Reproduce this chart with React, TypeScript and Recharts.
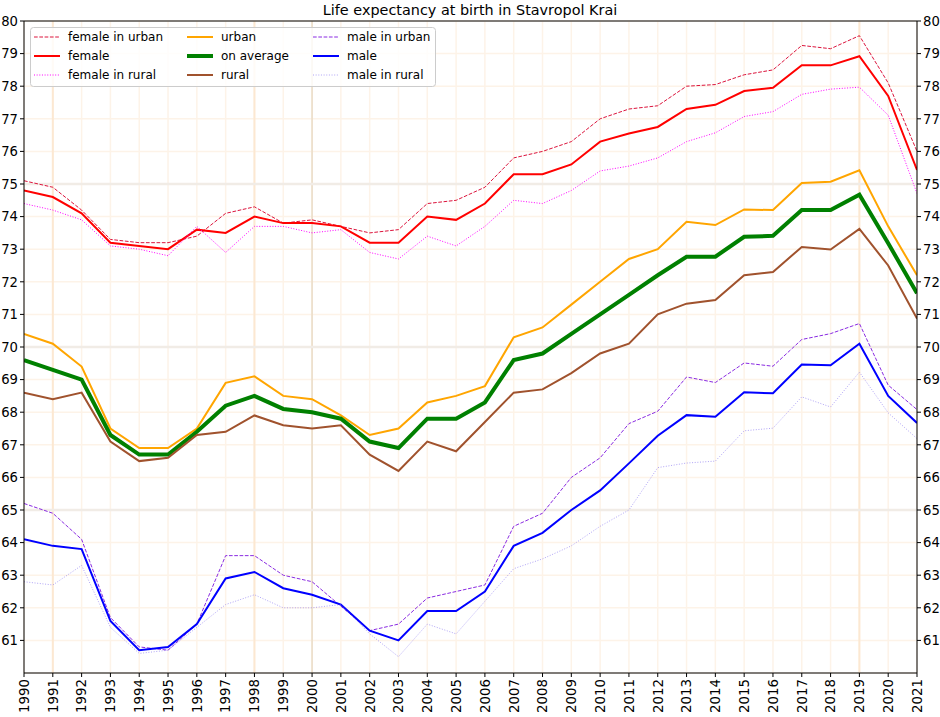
import React from "react";
import { LineChart, Line, XAxis, YAxis, CartesianGrid, ReferenceLine } from "recharts";

const years = [1990, 1991, 1992, 1993, 1994, 1995, 1996, 1997, 1998, 1999, 2000, 2001, 2002, 2003, 2004, 2005, 2006, 2007, 2008, 2009, 2010, 2011, 2012, 2013, 2014, 2015, 2016, 2017, 2018, 2019, 2020, 2021];
const yTicks = [61, 62, 63, 64, 65, 66, 67, 68, 69, 70, 71, 72, 73, 74, 75, 76, 77, 78, 79, 80];

const femaleUrban = [75.1, 74.9, 74.2, 73.3, 73.2, 73.2, 73.4, 74.1, 74.3, 73.8, 73.9, 73.7, 73.5, 73.6, 74.4, 74.5, 74.9, 75.8, 76.0, 76.3, 77.0, 77.3, 77.4, 78.0, 78.05, 78.35, 78.5, 79.25, 79.15, 79.55, 78.1, 76.0];
const female = [74.8, 74.6, 74.1, 73.2, 73.1, 73.0, 73.6, 73.5, 74.0, 73.8, 73.8, 73.7, 73.2, 73.2, 74.0, 73.9, 74.4, 75.3, 75.3, 75.6, 76.3, 76.55, 76.75, 77.3, 77.43, 77.85, 77.95, 78.64, 78.64, 78.92, 77.7, 75.43];
const femaleRural = [74.4, 74.2, 73.9, 73.1, 73.0, 72.8, 73.7, 72.9, 73.7, 73.7, 73.5, 73.6, 72.9, 72.7, 73.4, 73.1, 73.7, 74.5, 74.4, 74.8, 75.4, 75.55, 75.8, 76.3, 76.57, 77.07, 77.22, 77.75, 77.91, 77.97, 77.11, 74.71];
const urban = [70.4, 70.1, 69.4, 67.5, 66.9, 66.9, 67.5, 68.9, 69.1, 68.5, 68.4, 67.9, 67.3, 67.5, 68.3, 68.5, 68.8, 70.3, 70.6, 71.3, 72.0, 72.7, 73.0, 73.84, 73.74, 74.22, 74.2, 75.03, 75.07, 75.42, 73.7, 72.2];
const onAverage = [69.6, 69.3, 69.0, 67.3, 66.7, 66.7, 67.4, 68.2, 68.5, 68.1, 68.0, 67.8, 67.1, 66.9, 67.8, 67.8, 68.3, 69.6, 69.8, 70.4, 71.0, 71.6, 72.2, 72.77, 72.77, 73.38, 73.41, 74.2, 74.2, 74.67, 73.18, 71.65];
const rural = [68.6, 68.4, 68.6, 67.1, 66.5, 66.6, 67.3, 67.4, 67.9, 67.6, 67.5, 67.6, 66.7, 66.2, 67.1, 66.8, 67.7, 68.6, 68.7, 69.2, 69.8, 70.1, 71.0, 71.33, 71.44, 72.2, 72.3, 73.07, 72.99, 73.62, 72.5, 70.87];
const maleUrban = [65.2, 64.9, 64.1, 61.7, 60.8, 60.7, 61.5, 63.6, 63.6, 63.0, 62.8, 62.05, 61.3, 61.5, 62.3, 62.5, 62.7, 64.5, 64.9, 66.0, 66.6, 67.65, 68.03, 69.08, 68.91, 69.51, 69.41, 70.23, 70.41, 70.72, 68.83, 68.08];
const male = [64.1, 63.9, 63.8, 61.6, 60.7, 60.8, 61.5, 62.9, 63.1, 62.6, 62.4, 62.1, 61.3, 61.0, 61.9, 61.9, 62.5, 63.9, 64.3, 65.0, 65.6, 66.43, 67.28, 67.91, 67.86, 68.61, 68.58, 69.46, 69.44, 70.1, 68.5, 67.67];
const maleRural = [62.8, 62.7, 63.3, 61.4, 60.6, 60.7, 61.4, 62.1, 62.4, 62.0, 62.0, 62.1, 61.2, 60.5, 61.5, 61.2, 62.2, 63.2, 63.5, 63.9, 64.5, 65.0, 66.3, 66.44, 66.5, 67.43, 67.51, 68.47, 68.16, 69.23, 67.98, 67.19];

const seriesNames = ["female in urban", "female", "female in rural", "urban", "on average", "rural", "male in urban", "male", "male in rural"];
const seriesValues = [femaleUrban, female, femaleRural, urban, onAverage, rural, maleUrban, male, maleRural];

const styles = [
  { color: "#dc143c", width: 1, dash: "3.7 1.6", opacity: 1 },
  { color: "#ff0000", width: 2, dash: undefined, opacity: 1 },
  { color: "#ff00ff", width: 1, dash: "1 1.65", opacity: 1 },
  { color: "#ffa500", width: 2, dash: undefined, opacity: 1 },
  { color: "#008000", width: 4, dash: undefined, opacity: 1 },
  { color: "#a0522d", width: 2, dash: undefined, opacity: 1 },
  { color: "#8a2be2", width: 1, dash: "3.7 1.6", opacity: 1 },
  { color: "#0000ff", width: 2, dash: undefined, opacity: 1 },
  { color: "#7b68ee", width: 1, dash: "1 1.65", opacity: 0.6 },
];

const data = years.map((y, i) => {
  const row: Record<string, number> = { year: y };
  seriesNames.forEach((n, k) => {
    row[n] = seriesValues[k][i];
  });
  return row;
});

const FONT = "'DejaVu Sans', sans-serif";

const XTick = (props: any) => {
  const { x, y, payload } = props;
  return (
    <text
      x={0}
      y={0}
      transform={`translate(${x},${y}) rotate(-90)`}
      textAnchor="end"
      dy="0.36em"
      fontSize={13.4}
      fontFamily={FONT}
      fill="#000"
    >
      {payload.value}
    </text>
  );
};

const YTick = (props: any) => {
  const { x, y, payload, textAnchor } = props;
  return (
    <text x={x} y={y} dy="0.36em" textAnchor={textAnchor} fontSize={13.2} fontFamily={FONT} fill="#000">
      {payload.value}
    </text>
  );
};

const LegendBox = () => {
  const cols = [0, 1, 2];
  const colX = [34, 187, 313];
  const rowY = [37, 56, 75];
  return (
    <svg style={{ position: "absolute", left: 0, top: 0, pointerEvents: "none" }} width={940} height={717}>
      <rect x={30.5} y={27.5} width={405} height={59} rx={3} ry={3} fill="rgba(255,255,255,0.8)" stroke="#cccccc" strokeWidth={1} />
      {cols.map((c) =>
        [0, 1, 2].map((r) => {
          const idx = c * 3 + r;
          const s = styles[idx];
          return (
            <g key={idx}>
              <line
                x1={colX[c]}
                x2={colX[c] + 26}
                y1={rowY[r]}
                y2={rowY[r]}
                stroke={s.color}
                strokeWidth={s.width}
                strokeDasharray={s.dash}
                strokeOpacity={s.opacity}
              />
              <text x={colX[c] + 34} y={rowY[r]} dy="0.36em" fontSize={12} fontFamily={FONT} fill="#000">
                {seriesNames[idx]}
              </text>
            </g>
          );
        })
      )}
    </svg>
  );
};

export default function App() {
  return (
    <div style={{ position: "absolute", left: 0, top: 0, width: 940, height: 717, background: "#fff", fontFamily: FONT }}>
      <div
        style={{
          position: "absolute",
          left: 0,
          top: 2,
          width: 940,
          textAlign: "center",
          fontSize: 14.4,
          lineHeight: "17px",
          color: "#000",
        }}
      >
        Life expectancy at birth in Stavropol Krai
      </div>
      <div style={{ position: "absolute", left: 0, top: 0 }}>
        <LineChart width={940} height={717} data={data} margin={{ top: 21, right: 0, bottom: 0, left: 0 }}>
          <CartesianGrid stroke="#fdf3e8" strokeWidth={1.5} />
          <ReferenceLine x={1991} stroke="#fce8d2" strokeWidth={2} />
          <ReferenceLine x={1998} stroke="#fce8d2" strokeWidth={2} />
          <ReferenceLine x={2019} stroke="#fce8d2" strokeWidth={2} />
          <ReferenceLine x={2000} stroke="#e9dcc7" strokeWidth={1.5} />
          <ReferenceLine y={65} stroke="#f1ece6" strokeWidth={2.5} />
          <ReferenceLine y={70} stroke="#f1ece6" strokeWidth={2.5} />
          <ReferenceLine y={75} stroke="#f1ece6" strokeWidth={2.5} />
          <XAxis
            dataKey="year"
            type="number"
            domain={[1990, 2021]}
            ticks={years}
            interval={0}
            height={44}
            tick={<XTick />}
            tickSize={4}
            tickMargin={2}
            axisLine={{ stroke: "#000", strokeWidth: 1 }}
            tickLine={{ stroke: "#000" }}
            allowDataOverflow
          />
          <YAxis
            domain={[60, 80]}
            ticks={yTicks}
            interval={0}
            width={24}
            tick={<YTick />}
            tickSize={4}
            tickMargin={2}
            axisLine={{ stroke: "#000", strokeWidth: 1 }}
            tickLine={{ stroke: "#000" }}
            allowDataOverflow
          />
          <YAxis
            yAxisId="right"
            orientation="right"
            domain={[60, 80]}
            ticks={yTicks}
            interval={0}
            width={23}
            tick={<YTick />}
            tickSize={4}
            tickMargin={2}
            axisLine={{ stroke: "#000", strokeWidth: 1 }}
            tickLine={{ stroke: "#000" }}
            allowDataOverflow
          />
          <ReferenceLine y={80} stroke="#000" strokeWidth={1} />
          {seriesNames.map((n, k) => (
            <Line
              key={n}
              dataKey={n}
              type="linear"
              stroke={styles[k].color}
              strokeWidth={styles[k].width}
              strokeDasharray={styles[k].dash}
              strokeOpacity={styles[k].opacity}
              dot={false}
              activeDot={false}
              isAnimationActive={false}
            />
          ))}
        </LineChart>
      </div>
      <LegendBox />
    </div>
  );
}
